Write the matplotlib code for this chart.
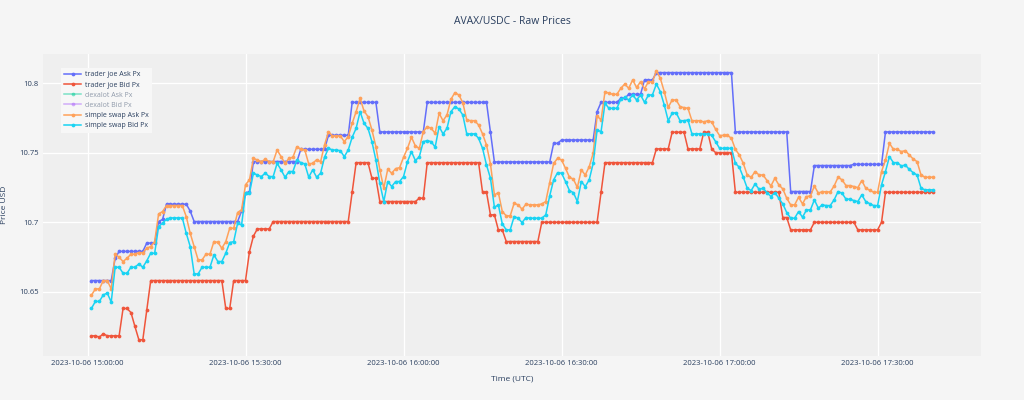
import matplotlib
matplotlib.use("Agg")
import matplotlib.pyplot as plt
import matplotlib.dates as mdates
from matplotlib.lines import Line2D
import pandas as pd

plt.rcParams['font.family'] = ['Open Sans', 'DejaVu Sans']

title = "AVAX/USDC - Raw Prices"
x_label = "Time (UTC)"
y_label = "Price USD"
series_names = ["trader joe Ask Px", "trader joe Bid Px", "dexalot Ask Px",
                "dexalot Bid Px", "simple swap Ask Px", "simple swap Bid Px"]
series_colors = ["#636EFA", "#EF553B", "#00CC96", "#AB63FA", "#FFA15A", "#19D3F3"]
series_hidden = [False, False, True, True, False, False]

start_time = "2023-10-06 15:00:45"
n_samples = 214
times = pd.date_range(start_time, periods=n_samples, freq="45s")

y_ticks = [10.65, 10.7, 10.75, 10.8]
y_tick_labels = ["10.65", "10.7", "10.75", "10.8"]
x_tick_times = ["2023-10-06 15:00:00", "2023-10-06 15:30:00", "2023-10-06 16:00:00",
                "2023-10-06 16:30:00", "2023-10-06 17:00:00", "2023-10-06 17:30:00"]

tj_ask = [
    10.658, 10.658, 10.658, 10.658, 10.658, 10.658,
    10.674,
    10.679, 10.679, 10.679, 10.679, 10.679, 10.679, 10.679,
    10.685, 10.685, 10.685,
    10.7005, 10.702,
    10.713, 10.713, 10.713, 10.713, 10.713, 10.713,
    10.708,
    10.7005, 10.7005, 10.7005, 10.7005, 10.7005, 10.7005,
    10.7005, 10.7005, 10.7005, 10.7005, 10.7005, 10.7005,
    10.708, 10.721, 10.722,
    10.7437, 10.7437, 10.7437, 10.7437, 10.7437, 10.7437,
    10.7437, 10.7437, 10.7437, 10.7437, 10.7437, 10.7437,
    10.7525, 10.7525, 10.7525, 10.7525, 10.7525, 10.7525, 10.7525,
    10.7626, 10.7626, 10.7626, 10.7626, 10.7626, 10.7626,
    10.7863, 10.7863, 10.7863, 10.7863, 10.7863, 10.7863, 10.7863,
    10.765, 10.765, 10.765, 10.765, 10.765, 10.765,
    10.765, 10.765, 10.765, 10.765, 10.765, 10.765,
    10.7863, 10.7863, 10.7863, 10.7863, 10.7863, 10.7863, 10.7863, 10.7863,
    10.7863, 10.7863, 10.7863, 10.7863, 10.7863, 10.7863, 10.7863, 10.7863,
    10.765,
    10.7434, 10.7434, 10.7434, 10.7434, 10.7434,
    10.7434, 10.7434, 10.7434, 10.7434, 10.7434,
    10.7434, 10.7434, 10.7434, 10.7434, 10.7434,
    10.7568, 10.7568,
    10.7592, 10.7592, 10.7592, 10.7592, 10.7592, 10.7592, 10.7592, 10.7592, 10.7592,
    10.7796,
    10.7863, 10.7863, 10.7863, 10.7863, 10.7863,
    10.7892, 10.7892,
    10.7921, 10.7921, 10.7921, 10.7921,
    10.8024, 10.8024, 10.8024,
    10.8077, 10.8077, 10.8077, 10.8077, 10.8077, 10.8077, 10.8077, 10.8077, 10.8077, 10.8077,
    10.8077, 10.8077, 10.8077, 10.8077, 10.8077, 10.8077, 10.8077, 10.8077, 10.8077, 10.8077,
    10.765, 10.765, 10.765, 10.765, 10.765, 10.765, 10.765,
    10.765, 10.765, 10.765, 10.765, 10.765, 10.765, 10.765,
    10.7221, 10.7221, 10.7221, 10.7221, 10.7221, 10.7221,
    10.7408, 10.7408, 10.7408, 10.7408, 10.7408, 10.7408, 10.7408, 10.7408, 10.7408, 10.7408,
    10.7417, 10.7417, 10.7417, 10.7417, 10.7417, 10.7417, 10.7417, 10.7417,
    10.765, 10.765, 10.765, 10.765, 10.765, 10.765, 10.765,
    10.765, 10.765, 10.765, 10.765, 10.765, 10.765,
]

tj_bid = [
    10.6182, 10.6182, 10.6173, 10.6197,
    10.6182, 10.6182, 10.6182, 10.6182,
    10.6379, 10.6379, 10.635, 10.625, 10.6154, 10.6154, 10.6365,
    10.658, 10.658, 10.658, 10.658, 10.658, 10.658, 10.658, 10.658, 10.658, 10.658,
    10.658, 10.658, 10.658, 10.658, 10.658, 10.658, 10.658, 10.658, 10.658,
    10.6379, 10.6379,
    10.658, 10.658, 10.658, 10.658,
    10.6789, 10.690,
    10.6952, 10.6952, 10.6952, 10.6952,
    10.7005, 10.7005, 10.7005, 10.7005, 10.7005, 10.7005, 10.7005, 10.7005, 10.7005, 10.7005,
    10.7005, 10.7005, 10.7005, 10.7005, 10.7005, 10.7005, 10.7005, 10.7005, 10.7005, 10.7005,
    10.7216,
    10.7429, 10.7429, 10.7429, 10.7429,
    10.7317, 10.7317,
    10.7149, 10.7149, 10.7149, 10.7149, 10.7149, 10.7149, 10.7149, 10.7149, 10.7149, 10.7149,
    10.7173, 10.7173,
    10.7429, 10.7429, 10.7429, 10.7429, 10.7429, 10.7429, 10.7429,
    10.7429, 10.7429, 10.7429, 10.7429, 10.7429, 10.7429, 10.7429,
    10.7216, 10.7216,
    10.7053, 10.7053,
    10.6945, 10.6945,
    10.6861, 10.6861, 10.6861, 10.6861, 10.6861, 10.6861, 10.6861, 10.6861, 10.6861,
    10.7, 10.7, 10.7, 10.7, 10.7, 10.7, 10.7, 10.7, 10.7, 10.7, 10.7, 10.7, 10.7, 10.7, 10.7,
    10.7216,
    10.7429, 10.7429, 10.7429, 10.7429, 10.7429, 10.7429, 10.7429,
    10.7429, 10.7429, 10.7429, 10.7429, 10.7429, 10.7429,
    10.7528, 10.7528, 10.7528, 10.7528,
    10.7648, 10.7648, 10.7648, 10.7648,
    10.7528, 10.7528, 10.7528, 10.7528,
    10.7648, 10.7648,
    10.7528,
    10.7501, 10.7501, 10.7501, 10.7501, 10.7501,
    10.7216, 10.7216, 10.7216, 10.7216, 10.7216, 10.7216,
    10.7216, 10.7216, 10.7216, 10.7216, 10.7216, 10.7216,
    10.7034, 10.7034,
    10.6945, 10.6945, 10.6945, 10.6945, 10.6945, 10.6945,
    10.7, 10.7, 10.7, 10.7, 10.7, 10.7, 10.7, 10.7, 10.7, 10.7, 10.7,
    10.6945, 10.6945, 10.6945, 10.6945, 10.6945, 10.6945,
    10.7,
    10.7216, 10.7216, 10.7216, 10.7216, 10.7216, 10.7216, 10.7216,
    10.7216, 10.7216, 10.7216, 10.7216, 10.7216, 10.7216,
]

ss_ask = [
    10.6475, 10.652, 10.652, 10.658, 10.658, 10.652, 10.677, 10.6748, 10.6717, 10.6741,
    10.677, 10.677, 10.6782, 10.678, 10.6813, 10.6825, 10.6861, 10.706, 10.7077, 10.712,
    10.712, 10.712, 10.712, 10.712, 10.704, 10.692, 10.6825, 10.6729, 10.6729, 10.677,
    10.677, 10.6861, 10.6855, 10.6813, 10.686, 10.6957, 10.6957, 10.707, 10.709, 10.727,
    10.7305, 10.746, 10.7448,
    10.7436, 10.7453, 10.7436, 10.7436, 10.752, 10.7472, 10.7424, 10.746, 10.7468, 10.7544,
    10.7525, 10.752, 10.742, 10.7424, 10.745, 10.7436, 10.7556, 10.7652, 10.7621, 10.7621,
    10.7621, 10.758, 10.7616, 10.7712, 10.7796, 10.7892, 10.7801, 10.776, 10.7664, 10.7544,
    10.7377, 10.7245, 10.7381, 10.7353, 10.7386, 10.7393, 10.7468, 10.7532, 10.7612, 10.7549,
    10.7532, 10.7652,
    10.7688, 10.7676, 10.764, 10.7784, 10.7731, 10.7772, 10.7885, 10.7933, 10.7916, 10.7861,
    10.7736, 10.7731, 10.7731, 10.77, 10.7636, 10.7556, 10.742, 10.7197, 10.7213, 10.7077,
    10.7046, 10.7046, 10.7137, 10.7125, 10.7094, 10.713, 10.7125, 10.7125, 10.7125, 10.7132,
    10.7149, 10.7285, 10.7424, 10.746, 10.7448, 10.7388, 10.7324, 10.731, 10.725, 10.7377,
    10.734, 10.74, 10.7496,
    10.7765, 10.7736, 10.794, 10.7928, 10.7921, 10.7921, 10.7964, 10.7995, 10.7964, 10.8024,
    10.797, 10.8012, 10.796, 10.8012, 10.801, 10.8091, 10.8036, 10.794, 10.7827, 10.788,
    10.788, 10.7832, 10.7825, 10.782, 10.7731, 10.7731, 10.7731, 10.7722, 10.7731, 10.7722,
    10.7669, 10.7624, 10.7626, 10.7626, 10.7604, 10.7525, 10.7484, 10.7424, 10.734, 10.7324,
    10.7365, 10.734, 10.734,
    10.73, 10.7261, 10.7317, 10.7269, 10.724, 10.7173, 10.7125, 10.7125, 10.718, 10.7132,
    10.7185, 10.7189, 10.7261, 10.7209, 10.7221, 10.7218, 10.7218, 10.7261, 10.7324, 10.7305,
    10.7264, 10.7264, 10.7257, 10.7249, 10.73, 10.7245, 10.723, 10.7216, 10.7216, 10.7365,
    10.7448, 10.7568, 10.7525, 10.7525, 10.7508, 10.7516, 10.7484, 10.7456, 10.7436, 10.734,
    10.7324, 10.7324, 10.7324,
]

ss_bid = [
    10.638, 10.643, 10.643, 10.6477, 10.649, 10.6425, 10.6676, 10.6676, 10.6633, 10.6633,
    10.6676, 10.6676, 10.67, 10.6676, 10.6722, 10.6777, 10.6777, 10.6969, 10.6993, 10.7022,
    10.7031, 10.7031, 10.7031, 10.7031, 10.692, 10.6825, 10.6628, 10.6628, 10.6676, 10.6676,
    10.6676, 10.6765, 10.6717, 10.6717, 10.6777, 10.6854, 10.686, 10.6993, 10.698, 10.7209,
    10.7209, 10.7353, 10.734,
    10.7329, 10.7353, 10.7329, 10.7329, 10.7424, 10.7377, 10.7324, 10.7365, 10.7365, 10.7448,
    10.7429, 10.742, 10.7324, 10.7377, 10.7324, 10.7353, 10.7468, 10.7532, 10.752, 10.752,
    10.7515, 10.7472, 10.752, 10.7612, 10.7676, 10.7796, 10.7712, 10.7676, 10.758, 10.7448,
    10.728, 10.7149, 10.7293, 10.7257, 10.7293, 10.7293, 10.7329, 10.7436, 10.7508, 10.7444,
    10.7472, 10.758,
    10.7588, 10.758, 10.754, 10.7688, 10.7636, 10.7676, 10.7796, 10.7832, 10.7815, 10.7772,
    10.7636, 10.7636, 10.7636, 10.7604, 10.7532, 10.7412, 10.7317, 10.7108, 10.7125, 10.6988,
    10.6945, 10.6945, 10.7041, 10.7029, 10.6998, 10.7034, 10.7029, 10.7029, 10.7029, 10.7029,
    10.7053, 10.719, 10.7305, 10.7357, 10.7353, 10.7293, 10.7228, 10.7213, 10.7149, 10.7293,
    10.7257, 10.7305, 10.7424,
    10.7664, 10.7652, 10.7856, 10.782, 10.782, 10.782, 10.7885, 10.7899, 10.788, 10.7916,
    10.788, 10.7916, 10.7863, 10.7916, 10.7916, 10.7995, 10.794, 10.7844, 10.7731, 10.7784,
    10.7789, 10.7731, 10.7731, 10.7736, 10.7636, 10.7636, 10.7636, 10.7636, 10.7636, 10.7626,
    10.758, 10.7532, 10.7532, 10.7532, 10.7532, 10.7424, 10.7396, 10.7324, 10.7245, 10.7228,
    10.7276, 10.7237, 10.7245,
    10.7213, 10.7185, 10.7213, 10.7173, 10.7132, 10.707, 10.7029, 10.7029, 10.7077, 10.7036,
    10.7089, 10.7089, 10.7161, 10.7101, 10.7125, 10.712, 10.712, 10.7161, 10.7221, 10.7209,
    10.7166, 10.7166, 10.7156, 10.7149, 10.7197, 10.7149, 10.7134, 10.712, 10.712, 10.7269,
    10.7365, 10.7472, 10.7429, 10.7429, 10.7405, 10.7412, 10.7381, 10.7357, 10.734, 10.7245,
    10.7233, 10.7233, 10.7233,
]

visible_series = {0: tj_ask, 1: tj_bid, 4: ss_ask, 5: ss_bid}

text_color = "#2a3f5f"
fig = plt.figure(figsize=(10.24, 4.0), dpi=100, facecolor="#f5f5f5")
ax = fig.add_axes([43 / 1024, 1 - 356 / 400, (981 - 43) / 1024, (356 - 54) / 400])
ax.set_facecolor("#efefef")

for k, vals in visible_series.items():
    ax.plot(times, vals, color=series_colors[k], lw=1.1, marker="o", ms=2.7,
            mew=0, zorder=2 + k)

ax.set_xlim(pd.Timestamp("2023-10-06 14:51:33"), pd.Timestamp("2023-10-06 17:49:38"))
ax.set_ylim(10.6037, 10.8211)
ax.set_yticks(y_ticks)
ax.set_yticklabels(y_tick_labels)
ax.set_xticks([pd.Timestamp(t) for t in x_tick_times])
ax.xaxis.set_major_formatter(mdates.DateFormatter("%Y-%m-%d %H:%M:%S"))
ax.grid(True, color="white", lw=0.9)
ax.set_axisbelow(True)
for s in ax.spines.values():
    s.set_visible(False)
ax.tick_params(length=0, labelsize=5.5, colors=text_color, pad=3)
ax.set_xlabel(x_label, fontsize=6, color=text_color, labelpad=6)
ax.set_ylabel(y_label, fontsize=6, color=text_color, labelpad=8)

fig.text(0.5, 1 - 22 / 400, title, ha="center", va="center", fontsize=7.5, color=text_color)

handles = []
for k, name in enumerate(series_names):
    a = 0.5 if series_hidden[k] else 1.0
    handles.append(Line2D([0], [0], color=series_colors[k], lw=1.1, marker="o", ms=2.7,
                          mew=0, alpha=a))
leg = ax.legend(handles, series_names, loc="upper left",
                bbox_to_anchor=((61 - 43) / 938, (356 - 68) / 302), borderaxespad=0,
                fontsize=5, frameon=True, facecolor="#f7f7f7", edgecolor="none",
                framealpha=1, fancybox=False, handlelength=2.4, handletextpad=0.5,
                labelspacing=0.45, borderpad=0.5)
for k, t in enumerate(leg.get_texts()):
    t.set_color(text_color)
    if series_hidden[k]:
        t.set_alpha(0.5)

fig.savefig("out.png", dpi=100, facecolor=fig.get_facecolor())
